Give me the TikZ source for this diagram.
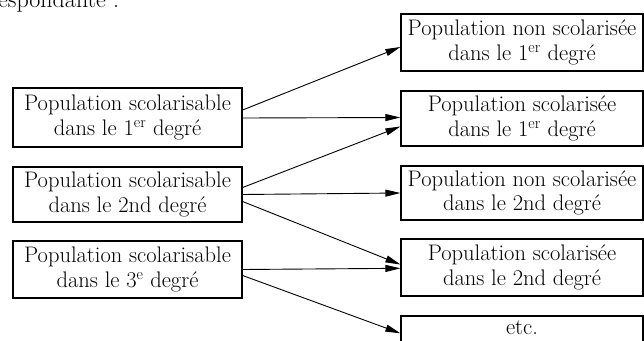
\documentclass[tikz,border=0pt]{standalone}
\usetikzlibrary{arrows.meta}
\begin{document}
\begin{tikzpicture}[x=1pt,y=-1pt,
  txt/.style={align=center, inner sep=0pt, font=\fontsize{22.5}{24.5}\selectfont},
  box/.style={txt, draw, line width=1.3pt},
  lbox/.style={box, minimum width=229pt},
  rbox/.style={box, minimum width=242pt},
  arr/.style={line width=0.9pt, -{Triangle[length=15pt,width=7pt]}},
  head/.style={inner sep=0pt, anchor=base west, font=\fontsize{24}{28}\selectfont}]
\useasboundingbox (0,0) rectangle (644,340);
\clip (0,0) rectangle (644,340);
\node[head] (hd) at (-2,7) {espondante :};
% left boxes
\node[lbox, minimum height=59pt] (L1) at (127.5,117.5) {Population scolarisable\\dans le 1\textsuperscript{er} degré};
\node[lbox, minimum height=55pt] (L2) at (127.5,194.5) {Population scolarisable\\dans le 2nd degré};
\node[lbox, minimum height=57pt] (L3) at (127.5,269.5) {Population scolarisable\\dans le 3\textsuperscript{e} degré};
% right boxes
\node[rbox, minimum height=57pt] (R1) at (522,42.5) {Population non scolarisée\\dans le 1\textsuperscript{er} degré};
\node[rbox, minimum height=55pt] (R2) at (522,118.5) {Population scolarisée\\dans le 1\textsuperscript{er} degré};
\node[rbox, minimum height=54pt] (R3) at (522,193) {Population non scolarisée\\dans le 2nd degré};
\node[rbox, minimum height=57pt] (R4) at (522,267.5) {Population scolarisée\\dans le 2nd degré};
\node[rbox, minimum height=56pt] (R5) at (522,344) {};
\node[txt, anchor=base] (R5t) at ([yshift=-19pt]R5.north) {etc.};
% connectors
\draw[arr] ([yshift=7.5pt]L1.east) -- ([yshift=-4.5pt]R1.west);
\draw[arr] ([yshift=-0.5pt]L1.east) -- ([yshift=1pt]R2.west);
\draw[arr] ([yshift=7pt]L2.east) -- ([yshift=-8pt]R2.west);
\draw[arr] ([yshift=0pt]L2.east) -- ([yshift=0pt]R3.west);
\draw[arr] ([yshift=-7pt]L2.east) -- ([yshift=3pt]R4.west);
\draw[arr] ([yshift=0pt]L3.east) -- ([yshift=-0.8pt]R4.west);
\draw[arr] ([yshift=-6pt]L3.east) -- ([yshift=10.7pt]R5.west);
\end{tikzpicture}
\end{document}
